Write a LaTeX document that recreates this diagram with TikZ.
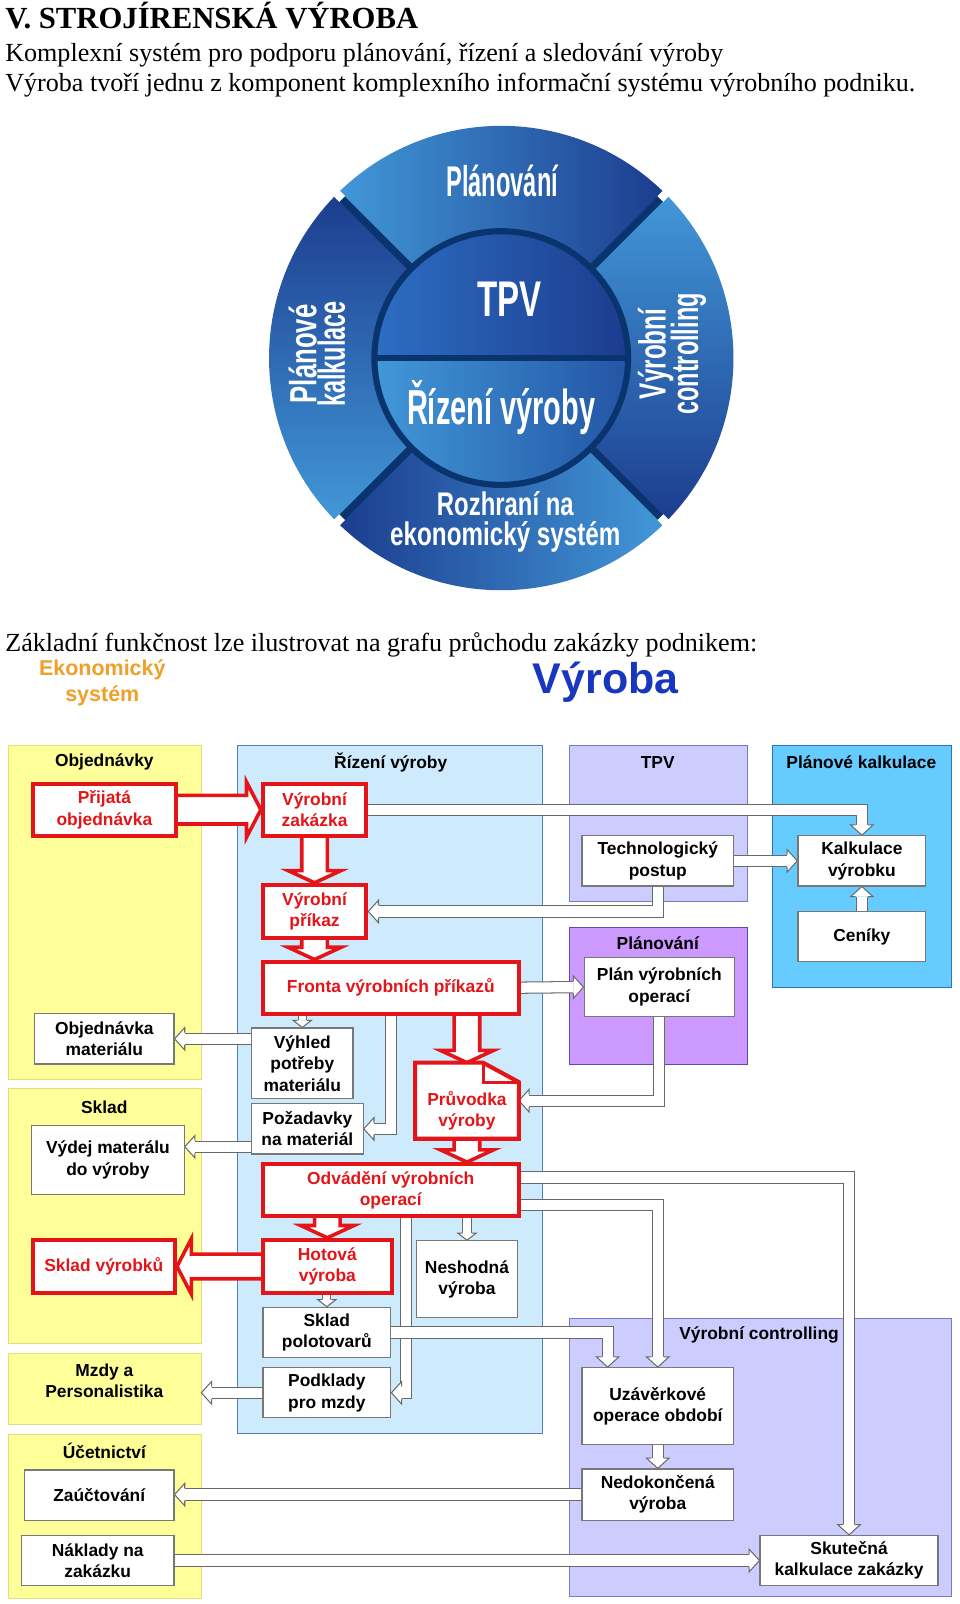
\documentclass[tikz,border=0pt]{standalone}
\usepackage{fontspec}
\setmainfont{Liberation Serif}
\setsansfont{Liberation Sans}
\usetikzlibrary{calc}
\pgfdeclarelayer{back}
\pgfdeclarelayer{mid}
\pgfsetlayers{back,mid,main}

\definecolor{myred}{RGB}{228,20,24}
\definecolor{boxgray}{RGB}{120,120,120}
\definecolor{pipegray}{RGB}{105,105,105}
\definecolor{objyellow}{RGB}{255,255,153}
\definecolor{objborder}{RGB}{225,220,130}
\definecolor{rizblue}{RGB}{205,235,253}
\definecolor{rizborder}{RGB}{85,125,190}
\definecolor{tpvlav}{RGB}{204,204,255}
\definecolor{tpvborder}{RGB}{120,120,200}
\definecolor{planpur}{RGB}{204,153,255}
\definecolor{planborder}{RGB}{100,70,180}
\definecolor{kalkblue}{RGB}{102,204,255}
\definecolor{kalkborder}{RGB}{45,115,185}
\definecolor{ekonorange}{RGB}{240,160,40}
\definecolor{vyrblue}{RGB}{25,55,190}
\definecolor{ringlight}{RGB}{66,152,216}
\definecolor{ringdark}{RGB}{28,60,142}
\definecolor{innerA}{RGB}{45,110,195}
\definecolor{innerB}{RGB}{35,85,165}
\definecolor{navy}{RGB}{10,52,110}

\newcommand{\dfont}{\sffamily\bfseries\fontsize{17}{21}\selectfont}
% block arrow pointing down, at the x of #3
\newcommand{\redDown}[3]{%
  \draw[redarrow] ($(#3.center |- #1.south)+(-12.5,-3)$) -- ($(#3.center |- #2.north)+(-12.5,-12)$) -- ++(-13.5,0)
    -- (#3.center |- #2.north) -- ($(#3.center |- #2.north)+(26,-12)$) -- ++(-13.5,0)
    -- ($(#3.center |- #1.south)+(12.5,-3)$);}

\begin{document}
\begin{tikzpicture}[x=1pt, y=-1pt,
    box/.style={draw=boxgray, line width=1.2, fill=white, align=center, inner sep=0pt, font=\dfont},
    redbox/.style={box, draw=myred, line width=4, text=myred},
    col/.style={anchor=north west, line width=0.8, inner sep=0pt},
    coltitle/.style={font=\dfont, inner sep=0pt, align=center},
    wh/.style 2 args={minimum width=#1, minimum height=#2},
    pipe/.style={draw=pipegray, line width=1, double=white, double distance=10, line join=miter},
    spipe/.style={pipe, double distance=7},
    redarrow/.style={draw=myred, line width=3.5, fill=white, line join=miter},
    ringtext/.style={text=white, inner sep=0pt},
    phead/.pic={
      \fill[white] (-10,-11) -- (0,0) -- (-10,11) -- cycle;
      \draw[pipegray, line width=1, line join=miter] (-10,-6) -- (-10,-11) -- (0,0) -- (-10,11) -- (-10,6);},
    shead/.pic={
      \fill[white] (-7,-9) -- (0,0) -- (-7,9) -- cycle;
      \draw[pipegray, line width=1, line join=miter] (-7,-4.5) -- (-7,-9) -- (0,0) -- (-7,9) -- (-7,4.5);}]

  \useasboundingbox (0,0) rectangle (938,1568);
  \begin{pgfonlayer}{back}
    \fill[white] (0,0) rectangle (938,1568);
  \end{pgfonlayer}

  % header
  \node[anchor=base west, inner sep=0pt, font=\bfseries\fontsize{30}{34}\selectfont] (nadpis) at (5,28) {V.\ STROJÍRENSKÁ VÝROBA};
  \node[anchor=base west, inner sep=0pt, font=\fontsize{25.5}{30}\selectfont] (radek1) at (5,60) {Komplexní systém pro podporu plánování, řízení a sledování výroby};
  \node[anchor=base west, inner sep=0pt, font=\fontsize{25.5}{30}\selectfont] (radek2) at (5,89) {Výroba tvoří jednu z komponent komplexního informační systému výrobního podniku.};

  % the wheel
  \begin{scope}[shift={(490,350)}]
    \shade[left color=ringlight, right color=ringdark] (225:227) arc[start angle=225, end angle=315, radius=227] -- (315:124) arc[start angle=315, end angle=225, radius=124] -- cycle;
    \shade[top color=ringlight, bottom color=ringdark] (315:227) arc[start angle=315, end angle=405, radius=227] -- (45:124) arc[start angle=45, end angle=-45, radius=124] -- cycle;
    \shade[left color=ringdark, right color=ringlight] (45:227) arc[start angle=45, end angle=135, radius=227] -- (135:124) arc[start angle=135, end angle=45, radius=124] -- cycle;
    \shade[top color=ringdark, bottom color=ringlight] (135:227) arc[start angle=135, end angle=225, radius=227] -- (225:124) arc[start angle=225, end angle=135, radius=124] -- cycle;
    \shade[left color=innerA, right color=ringdark] (180:124) arc[start angle=180, end angle=360, radius=124] -- cycle;
    \shade[left color=ringlight, right color=innerB] (0:124) arc[start angle=0, end angle=180, radius=124] -- cycle;
    \draw[navy, line width=6] (0,0) circle[radius=124];
    \draw[navy, line width=5] (-124,0) -- (124,0);
    \foreach \a in {45,135,225,315} {
      \draw[navy, line width=7] (\a:124) -- (\a:221);
      \draw[white, line width=8] (\a:220) -- (\a:232);
    }
  \end{scope}
  \node[ringtext, font=\sffamily\bfseries\fontsize{42}{42}\selectfont] (planovani) at (491,177) {\scalebox{0.55}[1]{Plánování}};
  \node[ringtext, font=\sffamily\bfseries\fontsize{49}{49}\selectfont] (tpv) at (498,293) {\scalebox{0.66}[1]{TPV}};
  \node[ringtext, font=\sffamily\bfseries\fontsize{48}{48}\selectfont] (rizeni) at (490,398) {\scalebox{0.59}[1]{Řízení výroby}};
  \node[ringtext, align=center, font=\sffamily\bfseries\fontsize{32}{29}\selectfont] (rozhrani) at (494,510)
    {\scalebox{0.73}[1]{Rozhraní na}\\\scalebox{0.74}[1]{ekonomický systém}};
  \node[ringtext, font=\sffamily\bfseries\fontsize{37}{37}\selectfont, rotate=90] (kalk1) at (296,346) {\scalebox{0.68}[1]{Plánové}};
  \node[ringtext, font=\sffamily\bfseries\fontsize{37}{37}\selectfont, rotate=90] (kalk2) at (324,346) {\scalebox{0.62}[1]{kalkulace}};
  \node[ringtext, font=\sffamily\bfseries\fontsize{37}{37}\selectfont, rotate=90] (contr1) at (641,346) {\scalebox{0.64}[1]{Výrobní}};
  \node[ringtext, font=\sffamily\bfseries\fontsize{37}{37}\selectfont, rotate=90] (contr2) at (673,346) {\scalebox{0.62}[1]{controlling}};

  \node[anchor=base west, inner sep=0pt, font=\fontsize{25.5}{30}\selectfont] (zakladni) at (5,637) {Základní funkčnost lze ilustrovat na grafu průchodu zakázky podnikem:};
  \node[font=\sffamily\bfseries\fontsize{21}{25}\selectfont, text=ekonorange, inner sep=0pt] (ekon1) at (100,655) {Ekonomický};
  \node[font=\sffamily\bfseries\fontsize{21}{25}\selectfont, text=ekonorange, inner sep=0pt] (ekon2) at (100,680) {systém};
  \node[font=\sffamily\bfseries\fontsize{42}{46}\selectfont, text=vyrblue, inner sep=0pt] (vyroba) at (592,667) {Výroba};

  % columns
  \begin{pgfonlayer}{back}
    \node[col, fill=objyellow, draw=objborder, wh={188}{327}] (objcol) at (8,728) {};
    \node[col, fill=objyellow, draw=objborder, wh={188}{249}] (skladcol) at (8,1064) {};
    \node[col, fill=objyellow, draw=objborder, wh={188}{69}] (mzdy) at (8,1323) {};
    \node[col, fill=objyellow, draw=objborder, wh={188}{160}] (ucetcol) at (8,1402) {};
    \node[col, fill=rizblue, draw=rizborder, wh={298}{673}] (rizcol) at (232,728) {};
    \node[col, fill=tpvlav, draw=tpvborder, wh={174}{153}] (tpvcol) at (556,728) {};
    \node[col, fill=planpur, draw=planborder, wh={174}{134}] (plancol) at (556,906) {};
    \node[col, fill=kalkblue, draw=kalkborder, wh={175}{237}] (kalkcol) at (755,728) {};
    \node[col, fill=tpvlav, draw=tpvborder, wh={374}{272}] (ctrlcol) at (556,1288) {};
  \end{pgfonlayer}
  \node[coltitle] (objtitle) at (102,745) {Objednávky};
  \node[coltitle] (riztitle) at (382,745) {Řízení výroby};
  \node[coltitle] (tpvtitle) at (643,745) {TPV};
  \node[coltitle] (kalktitle) at (842,745) {Plánové kalkulace};
  \node[coltitle] (plantitle) at (643,922) {Plánování};
  \node[coltitle] (skladtitle) at (102,1082) {Sklad};
  \node[coltitle] (mzdytitle) at (102,1350) {Mzdy a\\Personalistika};
  \node[coltitle] (ucettitle) at (102,1418) {Účetnictví};
  \node[coltitle] (ctrltitle) at (742,1305) {Výrobní controlling};

  % boxes
  \node[redbox, wh={140}{51}] (prijata) at (102,791.5) {Přijatá\\objednávka};
  \node[redbox, wh={101}{51}] (zakazka) at (307.5,791.5) {Výrobní\\zakázka};
  \node[redbox, wh={101}{52}] (prikaz) at (307.5,891) {Výrobní\\příkaz};
  \node[redbox, wh={250}{51}] (fronta) at (382,965.5) {Fronta výrobních příkazů};
  \node[box, wh={136}{49}] (objmat) at (102,1015.5) {Objednávka\\materiálu};
  \node[box, wh={99}{69}] (vyhled) at (295.5,1039.5) {Výhled\\potřeby\\materiálu};
  \node[box, wh={109}{49}] (pozad) at (300.5,1103.5) {Požadavky\\na materiál};
  \node[box, wh={149}{68}] (vydej) at (105.5,1134) {Výdej materálu\\do výroby};
  \node[inner sep=0pt, wh={101}{74}] (pruvodka) at (456.5,1076) {};
  \draw[myred, fill=white, line width=4, line join=miter] (pruvodka.south west) -- (pruvodka.north west)
    -- ($(pruvodka.north east)+(-35,0)$) -- ($(pruvodka.north east)+(0,19)$) -- (pruvodka.south east) -- cycle;
  \draw[myred, line width=3, line join=miter] ($(pruvodka.north east)+(-35,0)$) -- ($(pruvodka.north east)+(-35,19)$) -- ($(pruvodka.north east)+(0,19)$);
  \node[font=\dfont, text=myred, align=center, inner sep=0pt] (pruvodkatxt) at (456.5,1086) {Průvodka\\výroby};
  \node[redbox, wh={250}{51}] (odvad) at (382,1163.5) {Odvádění výrobních\\operací};
  \node[redbox, wh={126}{52}] (hotova) at (320,1238) {Hotová\\výroba};
  \node[redbox, wh={139}{52}] (skladvyr) at (101.5,1238) {Sklad výrobků};
  \node[box, wh={99}{75}] (neshod) at (456.5,1250.5) {Neshodná\\výroba};
  \node[box, wh={125}{49}] (sklpol) at (319.5,1302.5) {Sklad\\polotovarů};
  \node[box, wh={125}{49}] (podkl) at (319.5,1361.5) {Podklady\\pro mzdy};
  \node[box, wh={148}{49}] (tech) at (643,841.5) {Technologický\\postup};
  \node[box, wh={125}{49}] (kalkul) at (842.5,841.5) {Kalkulace\\výrobku};
  \node[box, wh={125}{49}] (ceniky) at (842.5,915.5) {Ceníky};
  \node[box, wh={147}{58}] (plan) at (644.5,965) {Plán výrobních\\operací};
  \node[box, wh={148}{75}] (uzav) at (643,1374.5) {Uzávěrkové\\operace období};
  \node[box, wh={148}{50}] (nedok) at (643,1461) {Nedokončená\\výroba};
  \node[box, wh={174}{49}] (skut) at (830,1525.5) {Skutečná\\kalkulace zakázky};
  \node[box, wh={146}{49}] (zauct) at (97,1461.5) {Zaúčtování};
  \node[box, wh={149}{49}] (naklady) at (95.5,1525.5) {Náklady na\\zakázku};

  \begin{pgfonlayer}{mid}
    % white pipes
    \draw[pipe] (zakazka.east) -| ($(kalkul.north)+(0,-10)$);
    \pic[rotate=-90] at (kalkul.north) {phead};
    \draw[pipe] (tech.south) |- ($(prikaz.east)+(10,0)$);
    \pic[rotate=180] at (prikaz.east) {phead};
    \draw[pipe] (tech.east) -- ($(kalkul.west)+(-10,0)$);
    \pic at (kalkul.west) {phead};
    \draw[pipe] (ceniky.north) -- ($(kalkul.south)+(0,10)$);
    \pic[rotate=90] at (kalkul.south) {phead};
    \draw[pipe] (fronta.east) -- ($(plan.west)+(-10,0)$);
    \pic at (plan.west) {phead};
    \draw[pipe] (plan.south) |- ($(pruvodka.east)+(10,0)$);
    \pic[rotate=180] at (pruvodka.east) {phead};
    \draw[spipe] (vyhled.north |- fronta.south) -- ($(vyhled.north)+(0,-7)$);
    \pic[rotate=-90] at (vyhled.north) {shead};
    \draw[pipe] (vyhled.west |- objmat.east) -- ($(objmat.east)+(10,0)$);
    \pic[rotate=180] at (objmat.east) {phead};
    \draw[pipe] (fronta.south) |- ($(pozad.east)+(10,0)$);
    \pic[rotate=180] at (pozad.east) {phead};
    \draw[pipe] ($(pozad.west)+(0,17.5)$) -- ($(pozad.west -| vydej.east)+(10,17.5)$);
    \pic[rotate=180] at ($(pozad.west -| vydej.east)+(0,17.5)$) {phead};
    \draw[pipe] ($(odvad.east)+(0,-12.5)$) -| ($(skut.north)+(0,-10)$);
    \pic[rotate=-90] at (skut.north) {phead};
    \draw[pipe] ($(odvad.east)+(0,14.5)$) -| ($(uzav.north)+(0,-10)$);
    \pic[rotate=-90] at (uzav.north) {phead};
    \draw[pipe] ($(odvad.south)+(15,0)$) |- ($(podkl.east)+(10,0)$);
    \pic[rotate=180] at (podkl.east) {phead};
    \draw[spipe] (neshod.north |- odvad.south) -- ($(neshod.north)+(0,-7)$);
    \pic[rotate=-90] at (neshod.north) {shead};
    \draw[spipe] (sklpol.north |- hotova.south) -- ($(sklpol.north)+(0,-7)$);
    \pic[rotate=-90] at (sklpol.north) {shead};
    \draw[pipe] (sklpol.east) -| ($(uzav.north)+(-49,-10)$);
    \pic[rotate=-90] at ($(uzav.north)+(-49,0)$) {phead};
    \draw[pipe] (podkl.west) -- ($(podkl.west -| mzdy.east)+(10,0)$);
    \pic[rotate=180] at (podkl.west -| mzdy.east) {phead};
    \draw[pipe] (uzav.south) -- ($(nedok.north)+(0,-10)$);
    \pic[rotate=-90] at (nedok.north) {phead};
    \draw[pipe] (nedok.west) -- ($(nedok.west -| zauct.east)+(10,0)$);
    \pic[rotate=180] at (nedok.west -| zauct.east) {phead};
    \draw[pipe] (naklady.east) -- ($(skut.west)+(-10,0)$);
    \pic at (skut.west) {phead};

    % red block arrows
    \draw[redarrow] ($(prijata.east)+(-3,-14)$) -- ($(zakazka.west)+(-14,-14)$) -- ($(zakazka.west)+(-14,-27)$)
      -- (zakazka.west) -- ($(zakazka.west)+(-14,27)$) -- ($(zakazka.west)+(-14,14)$) -- ($(prijata.east)+(-3,14)$);
    \redDown{zakazka}{prikaz}{prikaz}
    \redDown{prikaz}{fronta}{prikaz}
    \redDown{fronta}{pruvodka}{pruvodka}
    \redDown{pruvodka}{odvad}{pruvodka}
    \redDown{odvad}{hotova}{hotova}
    \draw[redarrow] ($(hotova.west)+(3,-12)$) -- ($(skladvyr.east)+(14,-12)$) -- ($(skladvyr.east)+(14,-27)$)
      -- (skladvyr.east) -- ($(skladvyr.east)+(14,27)$) -- ($(skladvyr.east)+(14,12)$) -- ($(hotova.west)+(3,12)$);
  \end{pgfonlayer}
\end{tikzpicture}
\end{document}
